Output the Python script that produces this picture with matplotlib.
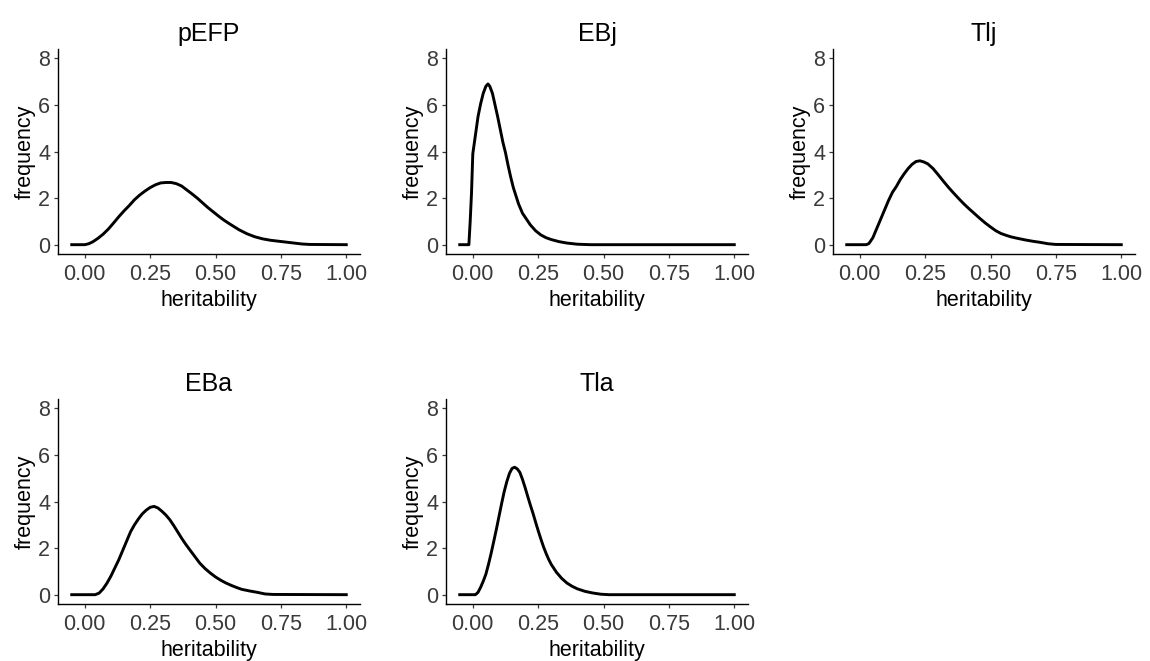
import matplotlib
matplotlib.use("Agg")
import matplotlib.pyplot as plt

plt.rcParams['font.family'] = ['Liberation Sans', 'DejaVu Sans']

# ---- posterior heritability densities ----
titles = ["pEFP", "EBj", "Tlj", "EBa", "Tla"]

pefp_x = [-0.05, 0.0, 0.015, 0.03, 0.05, 0.07, 0.09, 0.11, 0.13, 0.15, 0.17, 0.19, 0.21,
          0.23, 0.25, 0.27, 0.29, 0.31, 0.33, 0.35, 0.37, 0.39, 0.41, 0.43, 0.45, 0.47,
          0.49, 0.51, 0.53, 0.55, 0.57, 0.59, 0.62, 0.65, 0.68, 0.71, 0.74, 0.77, 0.80,
          0.83, 0.86, 1.0]
pefp_y = [0, 0, 0.04, 0.12, 0.27, 0.45, 0.67, 0.93, 1.2, 1.45, 1.68, 1.93, 2.13,
          2.3, 2.45, 2.57, 2.65, 2.67, 2.67, 2.62, 2.52, 2.35, 2.18, 2.0, 1.8, 1.6,
          1.42, 1.24, 1.07, 0.92, 0.78, 0.64, 0.47, 0.34, 0.25, 0.19, 0.15, 0.11, 0.07,
          0.03, 0.01, 0]

ebj_x = [-0.05, -0.015, -0.01, -0.005, 0.0, 0.01, 0.02, 0.03, 0.04, 0.05, 0.058, 0.065,
         0.075, 0.085, 0.095, 0.105, 0.115, 0.125, 0.135, 0.145, 0.155, 0.165, 0.175,
         0.19, 0.205, 0.22, 0.24, 0.26, 0.28, 0.30, 0.33, 0.36, 0.40, 0.45, 1.0]
ebj_y = [0, 0, 1.0, 2.2, 3.9, 4.7, 5.5, 6.05, 6.5, 6.8, 6.9, 6.8,
         6.5, 6.0, 5.5, 4.95, 4.4, 3.95, 3.4, 2.9, 2.45, 2.1, 1.75,
         1.35, 1.1, 0.85, 0.6, 0.42, 0.3, 0.22, 0.13, 0.07, 0.02, 0, 0]

tlj_x = [-0.05, 0.025, 0.035, 0.05, 0.065, 0.08, 0.095, 0.11, 0.125, 0.14, 0.155, 0.17,
         0.185, 0.2, 0.215, 0.23, 0.245, 0.26, 0.28, 0.30, 0.32, 0.34, 0.36, 0.38, 0.40,
         0.42, 0.44, 0.46, 0.48, 0.50, 0.52, 0.54, 0.56, 0.58, 0.60, 0.63, 0.66, 0.69,
         0.72, 0.75, 1.0]
tlj_y = [0, 0, 0.05, 0.3, 0.7, 1.1, 1.5, 1.9, 2.25, 2.5, 2.8, 3.05,
         3.27, 3.45, 3.57, 3.6, 3.55, 3.47, 3.27, 3.0, 2.72, 2.45, 2.2, 1.96, 1.73,
         1.52, 1.32, 1.12, 0.93, 0.76, 0.6, 0.48, 0.4, 0.33, 0.28, 0.21, 0.15, 0.1,
         0.04, 0.01, 0]

eba_x = [-0.05, 0.04, 0.055, 0.07, 0.085, 0.1, 0.115, 0.13, 0.145, 0.16, 0.175, 0.19,
         0.205, 0.22, 0.235, 0.25, 0.265, 0.28, 0.295, 0.31, 0.325, 0.34, 0.355, 0.37,
         0.385, 0.40, 0.42, 0.44, 0.46, 0.48, 0.50, 0.52, 0.54, 0.56, 0.58, 0.60, 0.63,
         0.66, 0.69, 0.72, 1.0]
eba_y = [0, 0, 0.07, 0.25, 0.5, 0.8, 1.15, 1.5, 1.9, 2.3, 2.7, 3.0,
         3.25, 3.47, 3.63, 3.75, 3.79, 3.72, 3.58, 3.42, 3.22, 2.97, 2.7, 2.43,
         2.18, 1.95, 1.65, 1.35, 1.12, 0.93, 0.76, 0.62, 0.5, 0.4, 0.31, 0.23, 0.16,
         0.1, 0.03, 0.01, 0]

tla_x = [-0.05, 0.01, 0.02, 0.03, 0.04, 0.05, 0.06, 0.07, 0.08, 0.09, 0.10, 0.11, 0.12,
         0.13, 0.14, 0.15, 0.16, 0.17, 0.18, 0.19, 0.20, 0.21, 0.22, 0.23, 0.24, 0.25,
         0.26, 0.27, 0.28, 0.29, 0.30, 0.32, 0.34, 0.36, 0.38, 0.40, 0.43, 0.46, 0.49,
         0.52, 1.0]
tla_y = [0, 0, 0.1, 0.32, 0.58, 0.88, 1.3, 1.77, 2.28, 2.8, 3.35, 3.9, 4.42,
         4.85, 5.2, 5.42, 5.47, 5.4, 5.25, 4.95, 4.6, 4.22, 3.85, 3.5, 3.12, 2.75,
         2.4, 2.07, 1.78, 1.52, 1.3, 0.96, 0.7, 0.5, 0.36, 0.25, 0.14, 0.07, 0.02,
         0, 0]

series = [(pefp_x, pefp_y), (ebj_x, ebj_y), (tlj_x, tlj_y), (eba_x, eba_y), (tla_x, tla_y)]

x_ticks = [0.0, 0.25, 0.5, 0.75, 1.0]
x_ticklabels = ["0.00", "0.25", "0.50", "0.75", "1.00"]
y_ticks = [0, 2, 4, 6, 8]

# ---- layout (pixel boxes of each panel) ----
W, H = 1150, 661
lefts = [58, 446, 833, 58, 446]
tops = [49, 49, 49, 399, 399]
pw, ph = 302, 205

fig = plt.figure(figsize=(W / 100, H / 100), dpi=100)
grey = "#3a3a3a"

for i, (xs, ys) in enumerate(series):
    ax = fig.add_axes([lefts[i] / W, 1 - (tops[i] + ph) / H, pw / W, ph / H])
    ax.plot(xs, ys, color="black", lw=2.1, solid_joinstyle="round")
    ax.set_xlim(-0.1025, 1.0525)
    ax.set_ylim(-0.4, 8.4)
    ax.set_xticks(x_ticks)
    ax.set_xticklabels(x_ticklabels)
    ax.set_yticks(y_ticks)
    for s in ["top", "right"]:
        ax.spines[s].set_visible(False)
    for s in ["left", "bottom"]:
        ax.spines[s].set_linewidth(1.0)
        ax.spines[s].set_color("black")
    ax.tick_params(axis="both", length=3, width=0.9, color=grey, labelcolor=grey,
                   labelsize=15.5)
    ax.tick_params(axis="x", pad=4.5)
    ax.tick_params(axis="y", pad=2.5)
    ax.set_xlabel("heritability", fontsize=15.5, labelpad=3.5)
    ax.set_ylabel("frequency", fontsize=15.5, labelpad=1.5)
    ax.set_title(titles[i], fontsize=18, pad=6)

fig.savefig("out.png", dpi=100)
